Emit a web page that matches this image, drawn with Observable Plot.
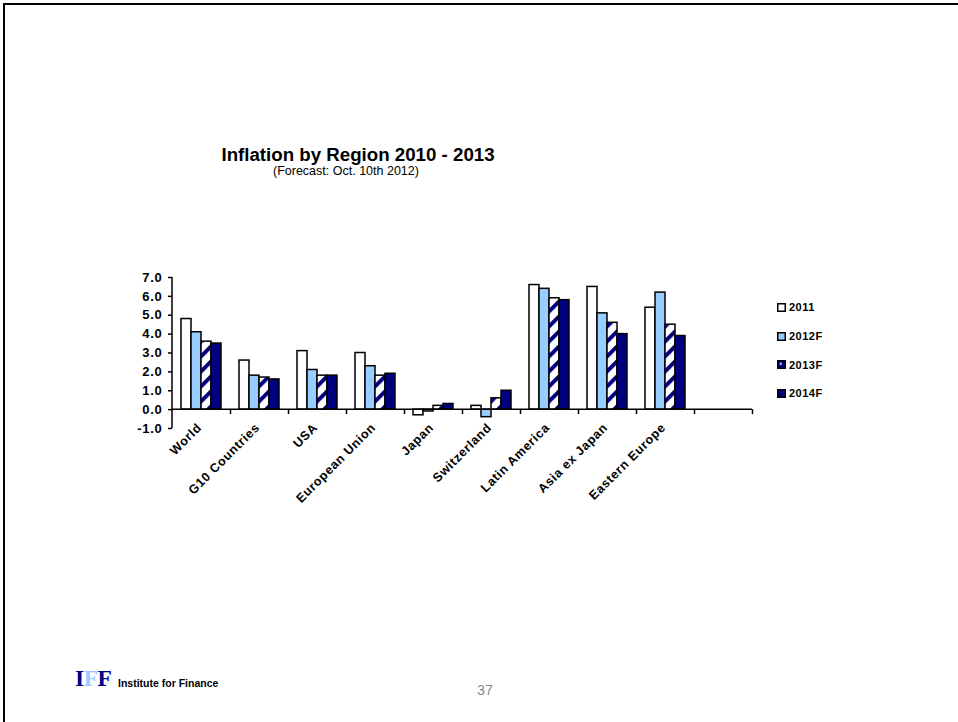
<!DOCTYPE html>
<html><head><meta charset="utf-8">
<script src="https://cdn.jsdelivr.net/npm/d3@7"></script>
<script src="https://cdn.jsdelivr.net/npm/@observablehq/plot@0.6"></script>
<style>
body{margin:0;background:#fff;font-family:"Liberation Sans",Arial,sans-serif;}
#page{position:relative;width:958px;height:722px;overflow:hidden;background:#fff;}
#chart{position:absolute;left:0;top:0;}
.frameline{position:absolute;left:3px;top:3px;width:960px;height:730px;border-top:2px solid #000;border-left:2px solid #000;}
#title{position:absolute;left:158px;width:400px;top:144px;text-align:center;font-weight:bold;font-size:18.7px;color:#000;white-space:nowrap;}
#subtitle{position:absolute;left:273px;top:164px;font-size:12.5px;color:#000;white-space:nowrap;}
#legend{position:absolute;left:777px;top:293px;}
.li{display:flex;align-items:center;height:28.7px;font-weight:bold;font-size:11px;letter-spacing:0.5px;color:#000;}
.li svg{margin-right:3px;}
#logo{position:absolute;left:75px;top:665px;font-family:"Liberation Serif","Times New Roman",serif;font-weight:bold;font-size:23.5px;letter-spacing:-0.5px;}
#inst{position:absolute;left:118px;top:677px;font-size:10.5px;font-weight:bold;color:#000;}
#pnum{position:absolute;left:477px;top:682px;font-size:14.5px;color:#8a8a8a;}
</style></head><body>
<div id="page">
  <div id="chart"></div>
  <div class="frameline"></div>
  <div id="title">Inflation by Region 2010 - 2013</div>
  <div id="subtitle">(Forecast: Oct. 10th 2012)</div>
  <div id="legend"></div>
  <div id="logo"><span style="color:#000080">I</span><span style="color:#99ccff">F</span><span style="color:#000080">F</span></div>
  <div id="inst">Institute for Finance</div>
  <div id="pnum">37</div>
</div>
<script>
const categories = ["World","G10 Countries","USA","European Union","Japan","Switzerland","Latin America","Asia ex Japan","Eastern Europe"];
const series = ["2011","2012F","2013F","2014F"];
const v2011 = [4.8, 2.6, 3.1, 3.0, -0.3, 0.2, 6.6, 6.5, 5.4];
const v2012 = [4.1, 1.8, 2.1, 2.3, -0.1, -0.4, 6.4, 5.1, 6.2];
const v2013 = [3.6, 1.7, 1.8, 1.8, 0.2, 0.6, 5.9, 4.6, 4.5];
const v2014 = [3.5, 1.6, 1.8, 1.9, 0.3, 1.0, 5.8, 4.0, 3.9];
const yTicks = [-1, 0, 1, 2, 3, 4, 5, 6, 7];
const seriesColors = ["#ffffff", "#99ccff", "url(#hatch2013)", "#000080"];

const seriesValues = [v2011, v2012, v2013, v2014];
const data = categories.flatMap((c, i) => series.map((s, j) => ({category: c, series: s, value: seriesValues[j][i]})));
const fxDomain = [...categories, ""];
const yDomain = [-1, 7];

const W = 958, H = 722, ML = 172, MR = 206, MT = 277, MB = 294;
const step = (W - ML - MR) / fxDomain.length;
const zeroOffset = (H - MT - MB) * (0 - yDomain[0]) / (yDomain[1] - yDomain[0]);

const plot = Plot.plot({
  width: W, height: H,
  marginLeft: ML, marginRight: MR, marginTop: MT, marginBottom: MB,
  style: {fontFamily: "'Liberation Sans', Arial, sans-serif", fontSize: "12px", fontWeight: "bold", color: "#000", background: "transparent", letterSpacing: "0.7px"},
  fx: {domain: fxDomain, padding: 0, label: null},
  x: {domain: series, paddingInner: 0, paddingOuter: 0.76, axis: null},
  y: {domain: yDomain, label: null},
  color: {domain: series, range: seriesColors},
  marks: [
    Plot.barY(data, {fx: "category", x: "series", y: "value", fill: "series", stroke: "#000", strokeWidth: 1.5}),
    Plot.axisY({ticks: yTicks, tickFormat: d => d.toFixed(1), tickSize: 4, tickPadding: 6, fontSize: 13, label: null, stroke: "#000", strokeWidth: 1.5, strokeOpacity: 1}),
    Plot.axisFx({anchor: "bottom", tickSize: 0, tickRotate: -45, tickPadding: 1, dx: -2, dy: -4, fontSize: 12.5, label: null}),
    Plot.axisFx({anchor: "bottom", tickSize: 5, dx: step / 2, dy: -zeroOffset, text: null, label: null, stroke: "#000", strokeWidth: 1.5, strokeOpacity: 1})
  ]
});

const svgNS = "http://www.w3.org/2000/svg";
const defs = document.createElementNS(svgNS, "defs");
defs.innerHTML = '<pattern id="hatch2013" patternUnits="userSpaceOnUse" width="10.6" height="10.6" patternTransform="rotate(45)"><rect width="10.6" height="10.6" fill="#ffffff"/><rect width="4" height="10.6" fill="#000080"/></pattern>';
plot.insertBefore(defs, plot.firstChild);

// axis lines, positioned through Plot's own scales
const yScale = plot.scale("y");
const fxScale = plot.scale("fx");
const g = d3.select(plot).append("g").attr("stroke", "#000").attr("stroke-width", 1.5);
g.append("line")
  .attr("x1", fxScale.range[0]).attr("x2", fxScale.range[1])
  .attr("y1", yScale.apply(0)).attr("y2", yScale.apply(0));
g.append("line")
  .attr("x1", fxScale.range[0]).attr("x2", fxScale.range[0])
  .attr("y1", yScale.apply(yDomain[1])).attr("y2", yScale.apply(yDomain[0]));

document.getElementById("chart").appendChild(plot);

const legend = document.getElementById("legend");
series.forEach((s, j) => {
  const row = document.createElement("div");
  row.className = "li";
  let sw;
  if (j === 2) {
    sw = '<svg width="9" height="9"><rect x="0.75" y="0.75" width="7.5" height="7.5" fill="#000080" stroke="#000" stroke-width="1.5"/><rect x="2.5" y="2.5" width="2.5" height="2.5" fill="#8899dd"/></svg>';
  } else {
    sw = `<svg width="9" height="9"><rect x="0.75" y="0.75" width="7.5" height="7.5" fill="${seriesColors[j]}" stroke="#000" stroke-width="1.5"/></svg>`;
  }
  row.innerHTML = sw + "<span>" + s + "</span>";
  legend.appendChild(row);
});
</script>
</body></html>
